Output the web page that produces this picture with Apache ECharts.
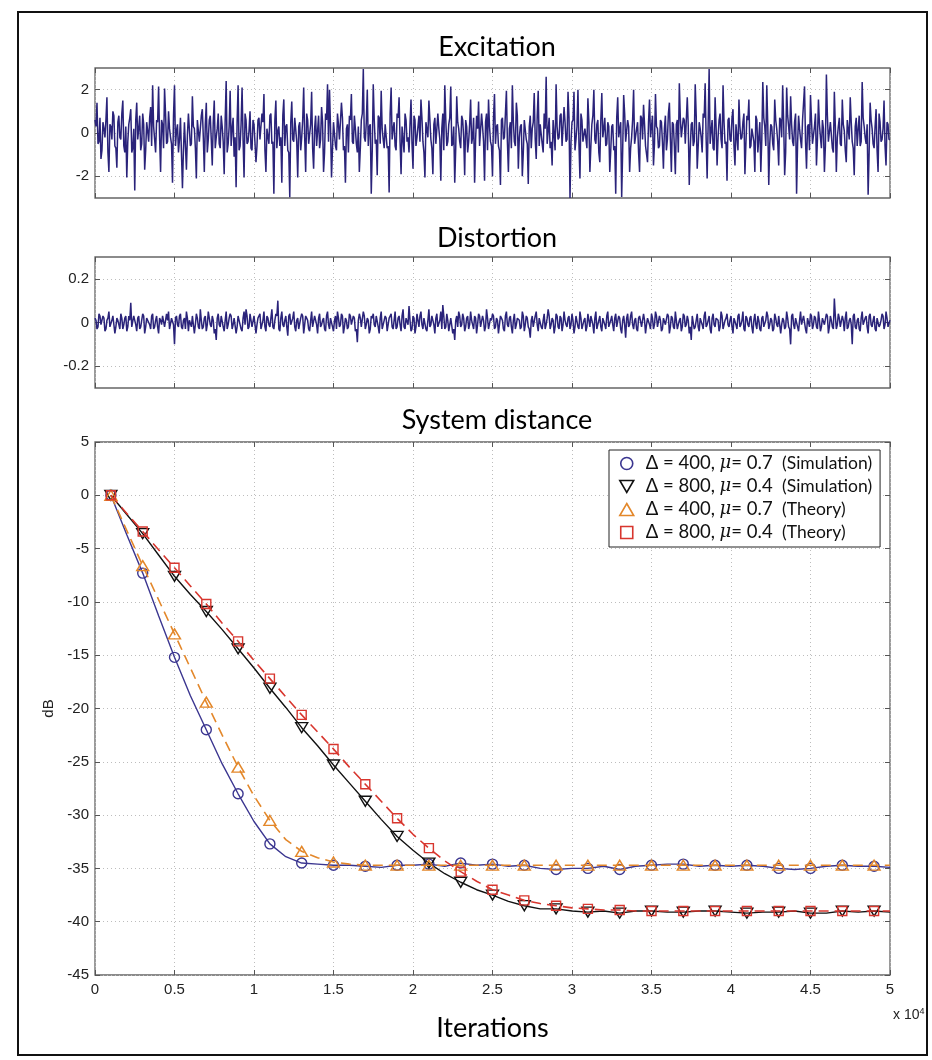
<!DOCTYPE html>
<html>
<head>
<meta charset="utf-8">
<script src="https://cdn.jsdelivr.net/npm/echarts@6/dist/echarts.min.js"></script>
<style>
html,body{margin:0;padding:0;background:#fff;}
#chart{width:932px;height:1060px;}
</style>
</head>
<body>
<div id="chart"></div>
<script>
// ---------------- DATA ----------------
// Excitation signal: readings of the spikes (401, every 125 iterations) and of the dense
// core between them (400, half-way samples). Together: 801 samples, every 62.5 iterations.
const excitationStep = 62.5;
const excitationPeaks = [
0.6,1.4,-0.4,-1.2,0.5,-0.2,1.65,-1.8,0.3,1.0,-0.6,-1.6,0.8,-0.3,1.5,-0.9,-2.05,0.4,1.1,-0.7,
-2.65,1.4,0.2,-0.8,0.9,-1.7,0.5,-0.4,1.2,2.2,-0.3,0.6,2.15,-1.8,0.4,2.05,-0.5,1.0,-0.2,-2.3,
2.2,0.1,-0.9,0.7,-2.55,0.5,-1.7,0.9,-0.6,1.7,0.2,-2.1,0.6,-0.4,1.1,-1.8,1.4,-0.3,0.8,-1.5,
1.5,-0.2,0.9,-0.7,0.3,-1.9,2.4,-0.5,1.95,0.2,-1.1,-2.5,2.2,-0.6,2.1,-2.05,0.6,-0.4,1.0,-0.8,
0.4,-1.35,0.6,-0.3,0.9,1.8,-1.8,0.2,0.8,-0.5,-2.8,1.5,0.1,-0.6,-2.3,1.55,0.3,-0.8,-2.97,1.45,
-0.4,0.7,-2.05,0.5,-0.2,2.1,-1.8,0.6,-0.5,1.9,-1.65,0.8,0.1,-0.7,1.2,-1.8,0.9,2.25,2.0,-2.05,
0.5,-0.6,0.9,-0.3,1.4,-0.8,-2.3,0.4,0.8,1.8,-0.5,0.2,-0.9,-1.8,0.6,2.95,-0.4,2.0,0.3,-2.8,
2.25,-0.5,-1.95,0.7,1.95,-0.3,0.4,-0.7,-2.75,2.1,0.2,-0.6,0.9,1.65,-1.9,0.3,0.9,-0.4,-0.9,1.55,
-1.65,0.6,-0.2,0.8,1.55,-0.4,-2.05,0.5,1.5,-0.3,-1.9,0.7,-0.5,0.2,-2.2,0.9,2.2,-0.6,0.4,2.15,
-0.5,-2.3,1.7,0.2,-0.7,0.6,-1.95,0.3,-0.4,1.55,-0.2,-2.3,0.8,1.45,-0.6,0.3,-2.2,0.9,1.55,-0.4,
-2.0,1.8,0.3,-0.6,-2.4,0.7,-0.2,1.95,-1.8,0.5,2.2,-0.4,1.4,-1.65,0.3,-2.0,0.6,-0.3,-2.35,0.8,
0.2,1.85,-1.2,1.95,0.4,-0.5,0.9,2.6,0.1,-0.7,-1.5,0.6,2.25,-0.3,0.8,-0.6,1.2,-0.4,1.9,-3.0,
0.5,1.9,-0.3,2.0,-2.1,0.6,-0.4,0.2,1.6,-1.8,0.4,2.0,-0.5,0.6,-1.35,1.85,0.2,-0.6,0.5,-1.8,
0.3,-0.8,-2.8,1.65,0.2,-2.95,1.75,-0.4,0.6,-1.8,-0.2,2.0,-0.5,0.5,-1.8,0.7,1.3,-0.6,-1.35,1.55,
0.3,-1.5,1.8,0.2,-0.6,0.5,-1.65,0.8,-0.3,1.4,-1.8,0.4,-1.9,0.6,2.3,-0.2,0.7,-0.5,1.65,-2.4,
0.4,-0.6,2.25,-1.65,0.5,-0.2,0.9,2.3,-2.1,2.95,0.1,-0.7,1.65,-1.5,0.6,-0.3,2.2,-0.5,-2.2,0.7,
-0.4,1.1,-1.5,0.4,1.55,-0.3,0.5,-1.9,0.8,1.55,-0.6,0.2,-1.8,0.6,-0.2,-1.8,2.35,0.3,2.2,-2.4,
0.4,-0.5,1.55,0.2,-1.5,0.6,2.2,-1.95,2.1,0.3,1.7,-0.4,0.5,-2.8,0.8,-0.3,0.6,2.15,-1.65,0.4,
1.75,-0.5,0.3,-1.5,1.55,-0.2,0.6,-1.8,2.7,-0.4,0.5,-0.7,1.9,-1.8,0.3,-0.5,1.55,0.1,-1.35,0.6,
1.65,-0.4,-1.95,0.7,0.2,-0.6,2.35,0.3,-0.5,-2.85,1.4,0.2,-0.7,1.1,-1.8,0.5,-0.3,1.5,-1.5,0.4,
-0.3
];
const excitationCore = [
0.3,-0.5,0.7,-0.8,0.2,0.6,-0.9,0.4,-0.3,0.8,-0.7,0.5,-0.2,0.9,-0.6,0.3,-0.4,0.7,-0.9,0.2,
0.6,-0.3,0.8,-0.5,0.4,-0.8,0.1,0.7,-0.6,0.3,-0.9,0.5,-0.2,0.6,-0.7,0.9,-0.4,0.2,-0.5,0.8,
-0.6,0.4,-0.3,0.7,-0.8,0.5,-0.1,0.9,-0.5,0.3,-0.7,0.6,-0.4,0.8,-0.2,0.4,-0.9,0.6,-0.3,0.5,
-0.7,0.2,-0.5,0.8,-0.4,0.6,-0.9,0.3,-0.6,0.7,-0.2,0.5,-0.8,0.4,-0.3,0.9,-0.5,0.1,-0.7,0.6,
0.4,-0.6,0.7,-0.3,0.5,-0.8,0.2,-0.5,0.9,-0.4,0.6,-0.7,0.3,-0.2,0.8,-0.6,0.4,-0.9,0.5,-0.3,
0.7,-0.4,0.3,-0.8,0.6,-0.2,0.9,-0.5,0.4,-0.7,0.2,-0.6,0.8,-0.3,0.5,-0.9,0.6,-0.4,0.3,-0.7,
0.5,-0.8,0.4,-0.3,0.7,-0.6,0.2,-0.9,0.6,-0.4,0.8,-0.5,0.3,-0.7,0.9,-0.2,0.5,-0.6,0.4,-0.8,
0.6,-0.3,0.8,-0.5,0.2,-0.7,0.4,-0.6,0.9,-0.3,0.5,-0.8,0.7,-0.4,0.3,-0.9,0.6,-0.2,0.4,-0.5,
0.8,-0.6,0.3,-0.4,0.7,-0.9,0.5,-0.2,0.6,-0.7,0.4,-0.5,0.9,-0.3,0.2,-0.8,0.6,-0.4,0.7,-0.6,
0.3,-0.7,0.5,-0.4,0.8,-0.2,0.6,-0.9,0.4,-0.5,0.7,-0.3,0.2,-0.6,0.9,-0.4,0.5,-0.8,0.3,-0.6,
0.7,-0.5,0.4,-0.8,0.6,-0.3,0.9,-0.4,0.2,-0.7,0.5,-0.6,0.8,-0.2,0.4,-0.9,0.6,-0.5,0.3,-0.7,
0.5,-0.3,0.8,-0.6,0.4,-0.9,0.2,-0.5,0.7,-0.4,0.6,-0.8,0.3,-0.2,0.9,-0.6,0.5,-0.3,0.7,-0.4,
0.6,-0.8,0.3,-0.5,0.9,-0.4,0.2,-0.7,0.5,-0.6,0.8,-0.3,0.4,-0.9,0.6,-0.2,0.7,-0.5,0.3,-0.8,
0.4,-0.6,0.7,-0.2,0.5,-0.8,0.9,-0.4,0.3,-0.7,0.6,-0.5,0.2,-0.9,0.8,-0.3,0.4,-0.6,0.5,-0.2,
0.8,-0.5,0.3,-0.7,0.6,-0.4,0.2,-0.8,0.9,-0.3,0.5,-0.6,0.4,-0.9,0.7,-0.2,0.6,-0.5,0.3,-0.7,
0.5,-0.4,0.8,-0.6,0.2,-0.9,0.7,-0.3,0.4,-0.5,0.6,-0.8,0.3,-0.2,0.9,-0.7,0.5,-0.4,0.6,-0.3,
0.7,-0.6,0.4,-0.8,0.3,-0.2,0.9,-0.5,0.6,-0.7,0.2,-0.4,0.8,-0.9,0.5,-0.3,0.7,-0.6,0.4,-0.5,
0.3,-0.8,0.6,-0.4,0.7,-0.2,0.5,-0.9,0.8,-0.3,0.4,-0.6,0.9,-0.5,0.2,-0.7,0.6,-0.4,0.3,-0.8,
0.6,-0.5,0.9,-0.3,0.4,-0.7,0.2,-0.6,0.8,-0.4,0.5,-0.9,0.3,-0.2,0.7,-0.6,0.4,-0.8,0.6,-0.3,
0.5,-0.7,0.3,-0.6,0.8,-0.4,0.7,-0.2,0.4,-0.9,0.6,-0.5,0.3,-0.8,0.9,-0.4,0.2,-0.6,0.5,-0.3
];
// Distortion signal: spikes (401) and dense core (400), same layout as above.
const distortionStep = 62.5;
const distortionPeaks = [
0.02,-0.03,0.04,-0.01,0.03,-0.04,0.01,0.05,-0.02,0.03,-0.05,0.02,-0.01,0.04,-0.03,0.02,-0.04,0.03,0.09,-0.02,
0.01,-0.04,0.03,-0.02,0.04,-0.05,0.02,0.0,-0.03,0.04,-0.02,0.03,-0.05,0.01,0.03,-0.02,0.04,0.05,-0.03,0.02,
-0.1,0.03,-0.02,0.04,-0.03,0.02,0.05,-0.04,0.01,0.03,-0.05,0.04,-0.02,0.06,-0.03,0.02,-0.04,0.05,-0.01,0.03,
-0.05,-0.08,0.04,-0.02,0.03,-0.04,0.05,-0.01,0.04,-0.03,0.02,-0.05,0.03,0.01,-0.04,0.05,0.06,-0.03,0.04,-0.02,
0.03,-0.05,0.02,0.04,-0.03,0.05,-0.04,0.02,-0.02,0.06,-0.03,0.04,0.1,-0.04,0.05,-0.02,0.03,-0.06,0.04,-0.01,
0.05,-0.04,0.02,-0.03,0.04,-0.05,0.03,0.01,-0.04,0.05,-0.02,0.03,-0.05,0.04,-0.01,0.02,-0.04,0.05,-0.03,0.02,
-0.04,0.03,0.05,-0.02,0.04,-0.05,0.02,-0.03,0.04,-0.01,0.03,-0.04,-0.09,0.04,-0.02,0.05,-0.03,0.02,-0.05,0.03,
0.04,-0.02,0.03,-0.05,0.05,-0.01,0.03,-0.04,0.02,0.04,-0.03,0.05,-0.02,0.03,-0.04,0.06,-0.03,0.02,0.075,-0.04,
0.03,-0.05,0.04,-0.02,0.05,-0.03,0.02,-0.04,0.06,-0.01,0.03,-0.05,0.04,-0.02,0.05,0.08,-0.03,0.04,-0.04,0.02,
-0.05,-0.08,0.03,0.05,-0.02,0.04,-0.04,0.02,-0.03,0.05,-0.01,0.03,-0.05,0.04,-0.02,0.03,-0.04,0.06,-0.03,0.02,
0.04,-0.03,0.02,-0.05,0.03,0.01,-0.04,0.05,-0.02,0.03,-0.05,0.04,-0.01,0.02,-0.03,0.05,-0.04,0.03,-0.02,-0.07,
0.03,-0.02,0.05,-0.04,0.02,-0.03,0.04,-0.01,0.06,-0.03,0.02,-0.05,0.04,-0.02,0.03,-0.04,0.05,-0.01,0.02,-0.03,
0.04,-0.05,0.03,-0.02,0.05,-0.03,0.01,-0.04,0.04,-0.02,0.03,-0.05,0.05,-0.01,0.03,-0.04,0.02,-0.03,0.05,-0.02,
0.03,-0.04,0.04,-0.02,0.02,-0.05,0.03,-0.07,0.04,-0.01,0.05,-0.03,0.02,-0.04,0.03,-0.02,0.04,-0.05,0.02,-0.01,
0.04,-0.03,0.05,-0.02,0.03,-0.04,0.02,-0.01,0.04,-0.05,0.03,-0.02,0.05,-0.03,0.01,-0.04,0.04,-0.02,0.03,-0.05,
-0.08,0.03,-0.02,0.04,-0.04,0.02,-0.03,0.05,-0.01,0.03,-0.05,0.04,-0.02,0.02,-0.04,0.05,-0.03,0.01,0.04,-0.02,
0.03,-0.05,0.02,-0.03,0.04,-0.01,0.05,-0.04,0.02,-0.02,0.03,-0.05,0.04,-0.03,0.01,-0.04,0.03,-0.02,0.05,-0.03,
0.02,-0.04,0.04,-0.01,0.03,-0.05,0.02,-0.03,0.05,-0.02,-0.1,0.04,-0.03,0.02,-0.04,0.05,-0.01,0.03,-0.05,0.02,
0.04,-0.03,0.03,-0.02,0.05,-0.04,0.02,-0.01,0.04,-0.05,0.03,-0.02,0.11,-0.03,0.04,-0.02,0.03,-0.04,0.05,-0.02,
0.02,-0.1,0.04,-0.03,0.02,-0.04,0.05,-0.01,0.03,-0.05,0.04,-0.02,0.03,-0.04,0.02,-0.01,0.04,-0.03,0.05,-0.02,0.01
];
const distortionCore = [
0.01,-0.02,0.03,-0.01,0.02,-0.03,0.02,-0.02,0.01,0.03,-0.02,0.01,-0.03,0.02,-0.01,0.03,-0.02,0.01,-0.02,0.03,
-0.01,0.02,-0.03,0.01,0.03,-0.02,0.02,-0.01,0.03,-0.03,0.01,-0.02,0.02,-0.01,0.03,-0.02,0.01,-0.03,0.02,-0.01,
0.02,-0.01,0.03,-0.02,0.01,-0.03,0.02,0.01,-0.02,0.03,-0.01,0.02,-0.03,0.01,-0.02,0.03,-0.01,0.02,-0.02,0.01,
-0.03,0.02,-0.01,0.03,-0.02,0.01,-0.03,0.02,0.03,-0.01,0.02,-0.02,0.01,-0.03,0.02,-0.01,0.03,-0.02,0.01,-0.02,
0.03,-0.01,0.02,-0.03,0.01,-0.02,0.03,-0.01,0.02,-0.02,0.01,0.03,-0.03,0.02,-0.01,0.01,-0.02,0.03,-0.01,0.02,
-0.02,0.01,-0.03,0.02,0.03,-0.01,0.02,-0.03,0.01,-0.02,0.03,-0.01,0.02,-0.02,0.01,-0.03,0.03,-0.01,0.02,-0.02,
0.01,-0.03,0.02,-0.01,0.03,-0.02,0.01,-0.02,0.03,-0.01,0.02,-0.03,0.01,0.02,-0.02,0.03,-0.01,0.01,-0.03,0.02,
-0.01,0.03,-0.02,0.02,-0.03,0.01,0.02,-0.01,0.03,-0.02,0.01,-0.03,0.02,-0.01,0.03,-0.02,0.02,-0.01,0.01,-0.03,
0.02,-0.02,0.01,0.03,-0.01,0.02,-0.03,0.01,-0.02,0.03,-0.01,0.02,-0.02,0.01,-0.03,0.03,-0.02,0.01,-0.01,0.02,
-0.03,0.01,-0.02,0.03,-0.01,0.02,-0.02,0.03,-0.01,0.01,-0.03,0.02,-0.01,0.03,-0.02,0.01,-0.02,0.02,-0.03,0.01,
0.03,-0.02,0.01,-0.01,0.02,-0.03,0.03,-0.01,0.02,-0.02,0.01,-0.03,0.02,0.01,-0.02,0.03,-0.01,0.02,-0.03,0.01,
-0.02,0.03,-0.01,0.02,-0.02,0.01,-0.03,0.02,0.03,-0.01,0.01,-0.02,0.03,-0.03,0.02,-0.01,0.01,-0.02,0.03,-0.01,
0.01,-0.02,0.03,-0.03,0.02,-0.01,0.02,-0.02,0.01,0.03,-0.01,0.02,-0.03,0.01,-0.02,0.02,-0.01,0.03,-0.02,0.01,
-0.01,0.02,-0.02,0.03,-0.03,0.01,-0.01,0.02,-0.02,0.03,-0.01,0.01,-0.03,0.02,0.03,-0.02,0.01,-0.01,0.02,-0.03,
0.02,-0.01,0.03,-0.02,0.01,-0.03,0.02,-0.01,0.03,-0.02,0.02,-0.03,0.01,-0.01,0.02,-0.02,0.03,-0.01,0.01,-0.02,
0.03,-0.03,0.01,-0.02,0.02,-0.01,0.03,-0.02,0.01,-0.03,0.02,-0.01,0.02,0.01,-0.02,0.03,-0.03,0.02,-0.01,0.01,
-0.02,0.02,-0.01,0.03,-0.02,0.01,-0.03,0.03,-0.01,0.02,-0.02,0.01,-0.01,0.03,-0.03,0.02,-0.02,0.01,0.03,-0.01,
0.01,-0.03,0.02,-0.02,0.03,-0.01,0.01,-0.02,0.02,-0.03,0.03,-0.01,0.02,-0.02,0.01,-0.01,0.03,-0.03,0.02,-0.02,
0.03,-0.01,0.02,-0.03,0.01,-0.02,0.02,-0.01,0.03,-0.02,0.01,-0.03,0.03,-0.01,0.02,-0.02,0.01,0.02,-0.03,0.01,
-0.01,0.03,-0.02,0.01,-0.03,0.02,-0.01,0.02,-0.02,0.03,-0.01,0.01,-0.03,0.02,-0.02,0.01,0.03,-0.01,0.02,-0.02
];
// System distance curves (dB), sampled every 1000 iterations from 1000 to 50000
const iterations = [1000,2000,3000,4000,5000,6000,7000,8000,9000,10000,11000,12000,13000,14000,15000,16000,17000,18000,19000,20000,
21000,22000,23000,24000,25000,26000,27000,28000,29000,30000,31000,32000,33000,34000,35000,36000,37000,38000,39000,40000,
41000,42000,43000,44000,45000,46000,47000,48000,49000,50000];
const sim400 = [0,-3.7,-7.3,-11.3,-15.2,-18.8,-22.0,-25.2,-28.0,-30.6,-32.7,-33.9,-34.5,-34.6,-34.7,-34.7,-34.8,-34.9,-34.7,-34.7,
-34.6,-34.8,-34.5,-34.7,-34.6,-34.8,-34.7,-35.0,-35.1,-35.0,-35.0,-34.8,-35.1,-34.8,-34.7,-34.6,-34.6,-34.8,-34.7,-34.8,
-34.7,-34.8,-35.0,-35.1,-35.0,-34.8,-34.7,-34.8,-34.8,-34.9];
const sim800 = [0,-1.8,-3.6,-5.6,-7.6,-9.3,-10.9,-12.6,-14.4,-16.2,-18.1,-19.9,-21.8,-23.5,-25.3,-27.0,-28.7,-30.4,-32.0,-33.3,
-34.5,-35.5,-36.3,-37.0,-37.5,-38.1,-38.5,-38.8,-38.8,-39.0,-39.1,-39.0,-39.2,-39.0,-39.0,-39.1,-39.1,-39.0,-39.0,-39.1,
-39.2,-39.1,-39.1,-39.0,-39.2,-39.2,-39.0,-39.1,-39.0,-39.1];
const theory400 = [0,-3.3,-6.6,-9.8,-13.0,-16.2,-19.4,-22.5,-25.5,-28.2,-30.5,-32.3,-33.4,-34.0,-34.4,-34.6,-34.7,-34.7,-34.7,-34.7,
-34.7,-34.7,-34.7,-34.7,-34.7,-34.7,-34.7,-34.7,-34.7,-34.7,-34.7,-34.7,-34.7,-34.7,-34.7,-34.7,-34.7,-34.7,-34.7,-34.7,
-34.7,-34.7,-34.7,-34.7,-34.7,-34.7,-34.7,-34.7,-34.7,-34.7];
const theory800 = [0,-1.7,-3.4,-5.1,-6.8,-8.5,-10.2,-12.0,-13.7,-15.5,-17.2,-18.9,-20.6,-22.2,-23.8,-25.5,-27.1,-28.7,-30.3,-31.8,
-33.1,-34.3,-35.3,-36.2,-37.0,-37.5,-38.0,-38.3,-38.5,-38.7,-38.8,-38.9,-38.9,-39.0,-39.0,-39.0,-39.0,-39.0,-39.0,-39.0,
-39.0,-39.0,-39.0,-39.0,-39.0,-39.0,-39.0,-39.0,-39.0,-39.0];
const seriesNames = ['sim400','sim800','theory400','theory800'];
const legendLabels = {
  sim400: ['400','0.7','(Simulation)'],
  sim800: ['800','0.4','(Simulation)'],
  theory400: ['400','0.7','(Theory)'],
  theory800: ['800','0.4','(Theory)']
};
const excitationTicks = [-2,0,2];
const distortionTicks = [-0.2,0,0.2];
const panelTitles = ['Excitation','Distortion','System distance'];

// ---------------- STYLE ----------------
const NAVY = '#2a237a';
const C_SIM400 = '#3b3690';
const C_SIM800 = '#111111';
const C_TH400 = '#e3872a';
const C_TH800 = '#d8362e';
const TICK_FONT = 'Liberation Sans, Arial, sans-serif';
const TEXT_FONT = 'Lato, "Open Sans", sans-serif';
const GRID_LINE = {show:true, lineStyle:{color:'#bdbdbd', type:[1,3], width:1}};
const TICK = {show:true, inside:true, length:5, lineStyle:{color:'#555'}};

const G = [
  {left:95, top:68, width:795, height:130},
  {left:95, top:257, width:795, height:131},
  {left:95, top:442, width:795, height:533}
];

function pairs(xs, ys){ return ys.map((v,i)=>[xs[i], v]); }
function interleave(a, b){ const out=[]; a.forEach((v,i)=>{ out.push(v); if(i<b.length) out.push(b[i]); }); return out; }
function stepPairs(arr, step){ return arr.map((v,i)=>[i*step, v]); }

function xAx(grid, pos, labels){
  const a = {
    type:'value', gridIndex:grid, position:pos, min:0, max:50000, interval:5000,
    axisLine:{show:false, onZero:false}, axisTick:TICK,
    axisLabel:{show:false}, splitLine:{show:false}
  };
  if (pos === 'bottom') a.splitLine = GRID_LINE;
  if (labels){
    a.axisLabel = {show:true, color:'#222', fontFamily:TICK_FONT, fontSize:15, margin:7,
      formatter:v=>String(v/10000)};
    a.name = 'Iterations';
    a.nameLocation = 'middle';
    a.nameGap = 40;
    a.nameTextStyle = {fontFamily:TEXT_FONT, fontSize:27, color:'#000'};
  }
  return a;
}
function yAx(grid, pos, min, max, custom, interval, name){
  const a = {
    type:'value', gridIndex:grid, position:pos, min:min, max:max,
    axisLine:{show:false, onZero:false},
    axisTick:Object.assign({}, TICK, custom ? {customValues:custom} : {}),
    axisLabel:{show:pos==='left', color:'#222', fontFamily:TICK_FONT, fontSize:15, margin:6},
    splitLine: pos==='left' ? GRID_LINE : {show:false}
  };
  if (custom) a.axisLabel.customValues = custom;
  if (interval) a.interval = interval;
  if (name){
    a.name = name; a.nameLocation = 'middle'; a.nameGap = 36;
    a.nameTextStyle = {fontFamily:TICK_FONT, fontSize:15, color:'#222'};
  }
  return a;
}

function curve(name, ys, color, symbol, size, dashed, rotate){
  return {
    name:name, type:'line', xAxisIndex:4, yAxisIndex:4,
    data:pairs(iterations, ys),
    showAllSymbol:true,
    symbol:(v,p)=> (p.dataIndex % 2 === 0 ? symbol : 'none'),
    symbolSize:size, symbolRotate:rotate||0,
    itemStyle:{color:'rgba(0,0,0,0)', borderColor:color, borderWidth:1.4},
    lineStyle:{color:color, width:dashed?1.6:1.4, type:dashed?[10,6]:'solid'},
    emphasis:{disabled:true}, z: dashed ? 4 : 3
  };
}

const ICONS = {
  sim400:'path://M5,0A5,5,0,1,1,5,10A5,5,0,1,1,5,0Z',
  sim800:'path://M0,0L11,0L5.5,9.5Z',
  theory400:'path://M5.5,0L11,9.5L0,9.5Z',
  theory800:'path://M0,0L10,0L10,10L0,10Z'
};
const ICON_COLORS = {sim400:C_SIM400, sim800:C_SIM800, theory400:C_TH400, theory800:C_TH800};

const option = {
  animation:false,
  backgroundColor:'#fff',
  title: panelTitles.map((t,i)=>({
    text:t, left:492, textAlign:'center', top:[29,220,402][i],
    textStyle:{fontFamily:TEXT_FONT, fontSize:27, fontWeight:'normal', color:'#000'}
  })),
  grid: G.map(g=>Object.assign({show:true, borderColor:'#666', borderWidth:1.3, backgroundColor:'#fff'}, g)),
  xAxis:[xAx(0,'bottom'), xAx(0,'top'), xAx(1,'bottom'), xAx(1,'top'), xAx(2,'bottom',true), xAx(2,'top')],
  yAxis:[
    yAx(0,'left',-3,3,excitationTicks), yAx(0,'right',-3,3,excitationTicks),
    yAx(1,'left',-0.3,0.3,distortionTicks), yAx(1,'right',-0.3,0.3,distortionTicks),
    yAx(2,'left',-45,5,null,5,'dB'), yAx(2,'right',-45,5,null,5)
  ],
  legend:{
    orient:'vertical', left:609, top:450,
    padding:[4,8,5,10], itemGap:4, itemWidth:28, itemHeight:12,
    borderColor:'#222', borderWidth:1, backgroundColor:'#fff',
    symbolKeepAspect:true,
    selectedMode:false,
    data: seriesNames.map(n=>({name:n, icon:ICONS[n],
      itemStyle:{color:'rgba(0,0,0,0)', borderColor:ICON_COLORS[n], borderWidth:1.6}})),
    formatter: n => {
      const l = legendLabels[n];
      return '{t|\u0394 = ' + l[0] + ', }{m|\u03bc}{t|= ' + l[1] + '  }{s|' + l[2] + '}';
    },
    textStyle:{
      rich:{
        t:{fontFamily:TEXT_FONT, fontSize:18.5, color:'#111', lineHeight:17},
        m:{fontFamily:'DejaVu Serif, serif', fontStyle:'italic', fontSize:18, color:'#111', lineHeight:17},
        s:{fontFamily:TEXT_FONT, fontSize:17.5, color:'#111', lineHeight:17}
      }
    }
  },
  graphic:[
    {type:'rect', shape:{x:18, y:12, width:909, height:1043},
     style:{fill:'none', stroke:'#111', lineWidth:2}, silent:true, z:-1},
    {type:'text', x:893, y:1007, silent:true,
     style:{text:'x 10{sup|4}', font:'14px Liberation Sans, Arial, sans-serif', fill:'#222',
       rich:{sup:{fontSize:9, verticalAlign:'top', padding:[0,0,8,0], fontFamily:TICK_FONT}}}}
  ],
  series:[
    {name:'Excitation', type:'line', xAxisIndex:0, yAxisIndex:0,
     data:stepPairs(interleave(excitationPeaks, excitationCore), excitationStep),
     showSymbol:false, symbol:'none', lineStyle:{color:NAVY, width:1.5}, emphasis:{disabled:true}, silent:true},
    {name:'Distortion', type:'line', xAxisIndex:2, yAxisIndex:2,
     data:stepPairs(interleave(distortionPeaks, distortionCore), distortionStep),
     showSymbol:false, symbol:'none', lineStyle:{color:NAVY, width:1.5}, emphasis:{disabled:true}, silent:true},
    curve('sim400', sim400, C_SIM400, 'circle', 10, false),
    curve('sim800', sim800, C_SIM800, 'triangle', [12,10], false, 180),
    curve('theory400', theory400, C_TH400, 'triangle', [12,10], true),
    curve('theory800', theory800, C_TH800, 'rect', 9, true)
  ]
};

const chart = echarts.init(document.getElementById('chart'), null, {renderer:'canvas'});
chart.setOption(option);
</script>
</body>
</html>
